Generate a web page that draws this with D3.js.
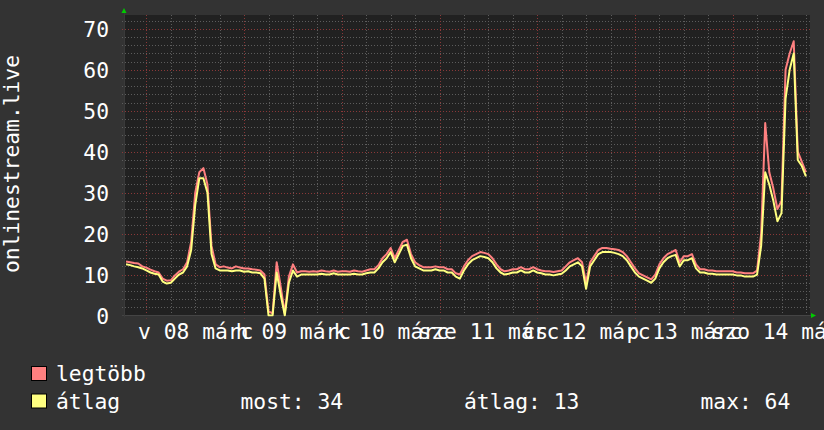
<!DOCTYPE html>
<html>
<head>
<meta charset="utf-8">
<script src="https://cdn.jsdelivr.net/npm/d3@7"></script>
<style>
  body { margin: 0; background: #333333; }
  svg { display: block; }
  text { font-family: 'DejaVu Sans Mono', monospace; fill: #ffffff; }
</style>
</head>
<body>
<div id="chart"></div>
<script>
// hourly samples, first one at márc 7 19:00
let startSample = new Date(2020, 2, 7, 19)

// legtöbb (max)
let maxValues = [
  13.2, 13, 12.8, 12.7, 12, 11.7, 11.2, 10.8, 10.5, 9, 8.5, 8.6, 9.8, 10.7, 11.3, 13,
  18, 30, 35, 36, 32, 17, 12.5, 11.8, 12, 11.7, 11.5, 12, 11.7, 11.5, 11.5, 11.3,
  11.2, 11, 10, 1, 0.5, 13, 7, 0.5, 9.5, 12.5, 10.5, 10.8, 10.8, 10.7, 10.8, 10.7,
  11, 10.8, 10.7, 11, 10.7, 10.8, 10.8, 10.7, 11, 10.8, 10.7, 11, 11.3, 11.3, 12.3, 14,
  15, 16.5, 14, 16, 18, 18.5, 15, 13, 12.3, 11.8, 11.8, 11.8, 12, 11.8, 11.8, 11.3,
  11.3, 10.3, 10, 12, 13.5, 14.5, 15, 15.5, 15.3, 15, 14, 12.5, 11.3, 10.8, 11, 11.3,
  11.3, 11.8, 11.3, 11.3, 11.8, 11.3, 11, 10.8, 10.8, 10.6, 10.8, 11, 12, 13, 13.5, 14,
  13, 8, 13, 14.5, 16, 16.5, 16.5, 16.3, 16.2, 16, 15.5, 14.5, 13, 11.5, 10.3, 9.8,
  9.3, 8.8, 10, 12.5, 14, 15, 15.5, 16, 13, 14.5, 14.5, 15, 12.5, 11.3, 11.3, 11,
  11, 10.8, 10.8, 10.8, 10.8, 10.8, 10.5, 10.5, 10.3, 10.3, 10.3, 11, 20, 47, 35, 31,
  26, 28, 60, 64, 67, 40, 37.5, 35
]

// átlag (average)
let avgValues = [
  12.5, 12.3, 12, 11.8, 11.5, 11, 10.5, 10.2, 10, 8.3, 7.8, 8, 9, 10, 10.5, 12,
  16, 27, 33.5, 33.5, 30, 15, 11.5, 11, 11, 11, 10.8, 11, 11, 10.7, 10.8, 10.5,
  10.5, 10.3, 9, 0, 0, 10.5, 5, 0, 8, 11, 9.5, 10, 10, 10, 10, 10,
  10.2, 10, 10, 10.3, 10, 10, 10, 10, 10.2, 10, 10, 10.3, 10.5, 10.5, 11.5, 13,
  14, 15.5, 13, 15, 17, 17.3, 14, 12, 11.5, 11, 11, 11, 11.3, 11, 11, 10.5,
  10.5, 9.5, 9, 11, 12.5, 13.5, 14, 14.5, 14.3, 14, 13, 11.5, 10.5, 10, 10.2, 10.5,
  10.5, 11, 10.5, 10.5, 11, 10.5, 10.3, 10, 10, 9.8, 10, 10.2, 11, 12, 12.5, 13,
  12, 6.5, 12, 13.5, 15, 15.5, 15.5, 15.5, 15.3, 15, 14.5, 13.5, 12, 10.5, 9.5, 9,
  8.5, 8, 9, 11.5, 13, 14, 14.5, 14.8, 12, 13.5, 13.5, 14, 11.5, 10.5, 10.5, 10.2,
  10.2, 10, 10, 10, 10, 10, 9.8, 9.8, 9.5, 9.5, 9.5, 10, 17, 35, 32, 28,
  23, 25, 53, 60, 64, 38, 36.5, 34
]

let yTicks = [0, 10, 20, 30, 40, 50, 60, 70]

let huLocale = d3.timeFormatLocale({
  dateTime: '%Y. %B %-e., %A %X',
  date: '%Y. %m. %d.',
  time: '%H:%M:%S',
  periods: ['de.', 'du.'],
  days: ['vasárnap', 'hétfő', 'kedd', 'szerda', 'csütörtök', 'péntek', 'szombat'],
  shortDays: ['v', 'h', 'k', 'sze', 'cs', 'p', 'szo'],
  months: ['január', 'február', 'március', 'április', 'május', 'június',
    'július', 'augusztus', 'szeptember', 'október', 'november', 'december'],
  shortMonths: ['jan', 'febr', 'márc', 'ápr', 'máj', 'jún',
    'júl', 'aug', 'szept', 'okt', 'nov', 'dec']
})

let fullWidth = 824
let fullHeight = 430
let plot = { left: 124, right: 810, top: 15, bottom: 315.5 }

let svg = d3
  .select('#chart')
  .append('svg')
  .attr('width', fullWidth)
  .attr('height', fullHeight)

svg.append('rect')
  .attr('width', fullWidth)
  .attr('height', fullHeight)
  .attr('fill', '#333333')

svg.append('rect')
  .attr('x', plot.left)
  .attr('y', plot.top)
  .attr('width', plot.right - plot.left)
  .attr('height', plot.bottom - plot.top)
  .attr('fill', '#212121')

let times = avgValues.map((d, i) => d3.timeHour.offset(startSample, i))

let xPositionScale = d3.scaleTime()
  .domain([new Date(2020, 2, 7, 18, 30), new Date(2020, 2, 14, 19, 0)])
  .range([plot.left, plot.right])

let yPositionScale = d3.scaleLinear()
  .domain([0, 73.4])
  .range([plot.bottom, plot.top])

// grid
let minorY = d3.range(2, 74, 2).filter(d => d % 10 !== 0)
let majorY = yTicks.filter(d => d > 0)

let gridY = svg.append('g').attr('class', 'grid')
gridY.selectAll('.minor-y')
  .data(minorY)
  .enter()
  .append('line')
  .attr('x1', plot.left - 2)
  .attr('x2', plot.right)
  .attr('y1', d => Math.round(yPositionScale(d)) + 0.5)
  .attr('y2', d => Math.round(yPositionScale(d)) + 0.5)
  .attr('stroke', '#5c5c5c')
  .attr('stroke-dasharray', '1,2')

let sixHours = d3.timeHour.every(6).range(xPositionScale.domain()[0], xPositionScale.domain()[1])
let minorX = sixHours.filter(d => d.getHours() !== 0)
let majorX = sixHours.filter(d => d.getHours() === 0)

gridY.selectAll('.minor-x')
  .data(minorX)
  .enter()
  .append('line')
  .attr('x1', d => Math.round(xPositionScale(d)) + 0.5)
  .attr('x2', d => Math.round(xPositionScale(d)) + 0.5)
  .attr('y1', plot.top)
  .attr('y2', plot.bottom + 2)
  .attr('stroke', '#5c5c5c')
  .attr('stroke-dasharray', '1,2')

gridY.selectAll('.major-y')
  .data(majorY)
  .enter()
  .append('line')
  .attr('x1', plot.left - 2)
  .attr('x2', plot.right)
  .attr('y1', d => Math.round(yPositionScale(d)) + 0.5)
  .attr('y2', d => Math.round(yPositionScale(d)) + 0.5)
  .attr('stroke', '#8a3838')
  .attr('stroke-dasharray', '1,2')

gridY.selectAll('.major-x')
  .data(majorX)
  .enter()
  .append('line')
  .attr('x1', d => Math.round(xPositionScale(d)) + 0.5)
  .attr('x2', d => Math.round(xPositionScale(d)) + 0.5)
  .attr('y1', plot.top)
  .attr('y2', plot.bottom + 3)
  .attr('stroke', '#8a3838')
  .attr('stroke-dasharray', '1,2')

// axis lines
svg.append('line')
  .attr('x1', plot.left - 2).attr('x2', plot.right + 2)
  .attr('y1', plot.bottom).attr('y2', plot.bottom)
  .attr('stroke', '#444444')
svg.append('line')
  .attr('x1', plot.left + 0.5).attr('x2', plot.left + 0.5)
  .attr('y1', plot.top - 2).attr('y2', plot.bottom + 2)
  .attr('stroke', '#3a3a3a')

// lines
svg.append('clipPath')
  .attr('id', 'plot-clip')
  .append('rect')
  .attr('x', plot.left)
  .attr('y', plot.top)
  .attr('width', plot.right - plot.left)
  .attr('height', plot.bottom - plot.top + 1)

let line = d3.line()
  .x((d, i) => xPositionScale(times[i]))
  .y(d => yPositionScale(d))

let series = [
  { key: 'legtöbb', values: maxValues, color: '#ff8080' },
  { key: 'átlag', values: avgValues, color: '#ffff80' }
]

svg.append('g')
  .attr('clip-path', 'url(#plot-clip)')
  .selectAll('path')
  .data(series)
  .enter()
  .append('path')
  .attr('d', d => line(d.values))
  .attr('fill', 'none')
  .attr('stroke', d => d.color)
  .attr('stroke-width', 2)
  .attr('stroke-linejoin', 'round')

// arrows
svg.append('path')
  .attr('d', 'M' + (plot.left - 2.5) + ',' + (plot.top - 2) + 'l2.5,-5l2.5,5z')
  .attr('fill', '#00cc00')
svg.append('path')
  .attr('d', 'M' + (plot.right + 1) + ',' + (plot.bottom - 2.5) + 'l5,2.5l-5,2.5z')
  .attr('fill', '#00cc00')

// axes labels
let yAxis = d3.axisLeft(yPositionScale)
  .tickValues(yTicks)
  .tickSize(0)
  .tickPadding(15)
  .tickFormat(d3.format('d'))
svg.append('g')
  .attr('class', 'axis y-axis')
  .attr('transform', 'translate(' + plot.left + ',0)')
  .call(yAxis)

let noonTicks = d3.timeDay
  .range(xPositionScale.domain()[0], xPositionScale.domain()[1])
  .map(d => d3.timeHour.offset(d, 12))
  .filter(d => d < xPositionScale.domain()[1])

let xAxis = d3.axisBottom(xPositionScale)
  .tickValues(noonTicks)
  .tickSize(0)
  .tickPadding(8)
  .tickFormat(huLocale.format('%a %d %b'))
svg.append('g')
  .attr('class', 'axis x-axis')
  .attr('transform', 'translate(0,' + plot.bottom + ')')
  .call(xAxis)

svg.selectAll('.axis .domain').remove()
svg.selectAll('.axis text')
  .attr('font-family', 'DejaVu Sans Mono')
  .attr('font-size', 21.3)
  .attr('fill', '#ffffff')
svg.selectAll('.y-axis text').attr('dy', '0.37em')

svg.append('text')
  .attr('transform', 'translate(18.5,164) rotate(-90)')
  .attr('text-anchor', 'middle')
  .attr('font-size', 21.3)
  .text('onlinestream.live')

// legend
let legend = svg.append('g').attr('class', 'legend')
legend.selectAll('rect')
  .data(series)
  .enter()
  .append('rect')
  .attr('x', 31.5)
  .attr('y', (d, i) => 366.5 + i * 27.5)
  .attr('width', 15)
  .attr('height', 14)
  .attr('fill', d => d.color)
  .attr('stroke', '#000000')
legend.selectAll('text')
  .data(series)
  .enter()
  .append('text')
  .attr('x', 56)
  .attr('y', (d, i) => 381 + i * 27.5)
  .attr('font-size', 21.3)
  .text(d => d.key)

let fmt = d3.format('.0f')
let stats = [
  { label: 'most: ' + fmt(avgValues[avgValues.length - 1]), x: 240.5 },
  { label: 'átlag: ' + fmt(d3.mean(avgValues)), x: 464 },
  { label: 'max: ' + fmt(d3.max(avgValues)), x: 700.5 }
]
legend.selectAll('.stat')
  .data(stats)
  .enter()
  .append('text')
  .attr('class', 'stat')
  .attr('x', d => d.x)
  .attr('y', 408.5)
  .attr('font-size', 21.3)
  .text(d => d.label)
</script>
</body>
</html>
